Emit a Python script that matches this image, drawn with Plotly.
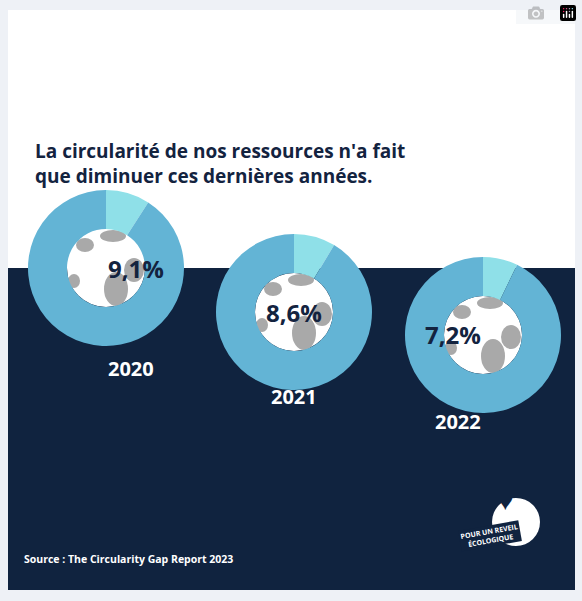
import plotly.graph_objects as go

years = ["2020", "2021", "2022"]
circularity = [9.1, 8.6, 7.2]
labels = ["9,1%", "8,6%", "7,2%"]

W, H = 582, 601
# donut centres and radius in pixels
centres = [(106, 268), (294, 312), (483, 335)]
R = 78

def px(x):
    return x / W

def py(y):
    return 1 - y / H

fig = go.Figure()
shapes = [
    dict(type="rect", xref="paper", yref="paper", x0=px(8), x1=px(575), y0=py(268), y1=py(10),
         fillcolor="white", line_width=0, layer="below"),
    dict(type="rect", xref="paper", yref="paper", x0=px(8), x1=px(575), y0=py(590), y1=py(268),
         fillcolor="#10233f", line_width=0, layer="below"),
]
annotations = []
for (cx, cy), yr, v, lab, yoff in zip(centres, years, circularity, labels, [100, 100, 102]):
    fig.add_trace(go.Pie(
        values=[v, 100 - v], hole=0.5, sort=False, direction="clockwise", rotation=0,
        marker=dict(colors=["#8fe0e8", "#63b4d5"], line=dict(width=0)),
        textinfo="none", hoverinfo="skip", showlegend=False,
        domain=dict(x=[px(cx - R), px(cx + R)], y=[py(cy + R), py(cy - R)]),
    ))
    r = 39
    shapes.append(dict(type="circle", xref="paper", yref="paper",
                       x0=px(cx - r), x1=px(cx + r), y0=py(cy + r), y1=py(cy - r),
                       fillcolor="white", line_width=0, layer="below"))
    # gray continents on the globe
    for dx0, dy0, dx1, dy1 in [(-30, -30, -12, -16), (-6, -38, 20, -26), (-2, 4, 22, 38),
                               (18, -10, 38, 14), (-38, 6, -26, 20)]:
        shapes.append(dict(type="circle", xref="paper", yref="paper",
                           x0=px(cx + dx0), x1=px(cx + dx1), y0=py(cy + dy1), y1=py(cy + dy0),
                           fillcolor="#a9a9a9", line_width=0, layer="below"))
    annotations.append(dict(x=px(cx), y=py(cy), xref="paper", yref="paper", text=f"<b>{lab}</b>",
                            showarrow=False, font=dict(family="Open Sans", size=24, color="#13233f")))
    annotations.append(dict(x=px(cx), y=py(cy + yoff), xref="paper", yref="paper", text=f"<b>{yr}</b>",
                            showarrow=False, font=dict(family="Open Sans", size=20, color="white")))

annotations += [
    dict(x=px(33), y=py(136), xref="paper", yref="paper", xanchor="left", align="left",
         text="<b>La circularité de nos ressources n'a fait<br>que diminuer ces dernières années.</b>",
         showarrow=False, font=dict(family="Open Sans", size=19, color="#13233f")),
    dict(x=px(22), y=py(568), xref="paper", yref="paper", xanchor="left",
         text="<b>Source : The Circularity Gap Report 2023</b>",
         showarrow=False, font=dict(family="Open Sans", size=10.5, color="white")),
]
shapes.append(dict(type="circle", xref="paper", yref="paper",
                   x0=px(492), x1=px(540), y0=py(546), y1=py(498),
                   fillcolor="white", line_width=0))
annotations.append(dict(x=px(516), y=py(520), xref="paper", yref="paper", text="♥",
                        showarrow=False, font=dict(size=28, color="#10233f")))
annotations.append(dict(x=px(522), y=py(552), xref="paper", yref="paper", textangle=-10,
                        text="<b>POUR UN REVEIL<br>ÉCOLOGIQUE</b>", bgcolor="#10233f",
                        showarrow=False, font=dict(family="Open Sans", size=7, color="white")))

fig.update_layout(width=W, height=H, margin=dict(l=0, r=0, t=0, b=0),
                  paper_bgcolor="#eef1f6", shapes=shapes, annotations=annotations)
fig.write_html("out.html", post_script="document.body.style.margin='0';")
